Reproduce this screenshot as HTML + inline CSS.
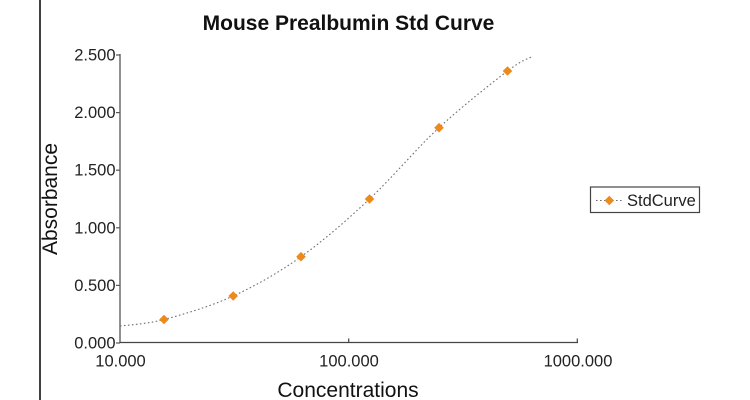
<!DOCTYPE html>
<html>
<head>
<meta charset="utf-8">
<style>
html,body{margin:0;padding:0;background:#fff;}
svg{display:block;}
text{font-family:"Liberation Sans",Arial,sans-serif;}
</style>
</head>
<body>
<svg width="750" height="400" viewBox="0 0 750 400" xmlns="http://www.w3.org/2000/svg">
  <rect x="0" y="0" width="750" height="400" fill="#fff"/>
  <!-- left border -->
  <line x1="40" y1="0" x2="40" y2="400" stroke="#000" stroke-width="1.5"/>

  <!-- title -->
  <text x="348.5" y="30" font-size="21" font-weight="bold" text-anchor="middle" fill="#111">Mouse Prealbumin Std Curve</text>

  <!-- axes -->
  <line x1="120" y1="54" x2="120" y2="343" stroke="#555" stroke-width="1.3"/>
  <line x1="119.5" y1="342.5" x2="578" y2="342.5" stroke="#444" stroke-width="1.3"/>

  <!-- y ticks -->
  <g stroke="#555" stroke-width="1.2">
    <line x1="116" y1="55" x2="120" y2="55"/>
    <line x1="116" y1="112.6" x2="120" y2="112.6"/>
    <line x1="116" y1="170.2" x2="120" y2="170.2"/>
    <line x1="116" y1="227.8" x2="120" y2="227.8"/>
    <line x1="116" y1="285.4" x2="120" y2="285.4"/>
    <line x1="116" y1="343" x2="120" y2="343"/>
  </g>
  <g font-size="16.5" fill="#222" text-anchor="end">
    <text x="115.5" y="60.5">2.500</text>
    <text x="115.5" y="118.1">2.000</text>
    <text x="115.5" y="175.7">1.500</text>
    <text x="115.5" y="233.3">1.000</text>
    <text x="115.5" y="290.9">0.500</text>
    <text x="115.5" y="348.5">0.000</text>
  </g>

  <!-- x ticks -->
  <g stroke="#444" stroke-width="1.2">
    <line x1="348.7" y1="338.5" x2="348.7" y2="343"/>
    <line x1="577.3" y1="338.5" x2="577.3" y2="343"/>
  </g>
  <g font-size="16.5" fill="#222" text-anchor="middle">
    <text x="120.5" y="366.5">10.000</text>
    <text x="349" y="366.5">100.000</text>
    <text x="578" y="366.5">1000.000</text>
  </g>

  <!-- axis titles -->
  <text x="348" y="397" font-size="21" text-anchor="middle" fill="#111">Concentrations</text>
  <text transform="translate(57,199) rotate(-90)" x="0" y="0" font-size="21" text-anchor="middle" fill="#111">Absorbance</text>

  <!-- curve -->
  <path d="M120,326 C127.3,324.9 145.1,324.5 164,319.5 C182.9,314.5 210.4,306.5 233.2,296 C256,285.5 278.3,272.9 301,256.7 C323.7,240.5 346.5,220.5 369.5,199 C392.5,177.5 416,149 439,127.7 C462,106.4 492.05,82.8 507.5,71 C522.95,59.2 527.7,59.1 531.7,56.7"
        fill="none" stroke="#6f6f6f" stroke-width="1.1" stroke-dasharray="1.6 2.4"/>

  <!-- markers -->
  <g fill="#EE8A1C">
    <path d="M164,314.7 L168.8,319.5 L164,324.3 L159.2,319.5 Z"/>
    <path d="M233.2,291.2 L238,296 L233.2,300.8 L228.4,296 Z"/>
    <path d="M301,251.9 L305.8,256.7 L301,261.5 L296.2,256.7 Z"/>
    <path d="M369.5,194.2 L374.3,199 L369.5,203.8 L364.7,199 Z"/>
    <path d="M439,122.9 L443.8,127.7 L439,132.5 L434.2,127.7 Z"/>
    <path d="M507.5,66.2 L512.3,71 L507.5,75.8 L502.7,71 Z"/>
  </g>

  <!-- legend -->
  <rect x="590.5" y="187" width="109" height="25.5" fill="#fff" stroke="#444" stroke-width="1.2"/>
  <line x1="596" y1="200.5" x2="622" y2="200.5" stroke="#6f6f6f" stroke-width="1.1" stroke-dasharray="1.6 2.4"/>
  <path d="M609.3,195.7 L614.1,200.5 L609.3,205.3 L604.5,200.5 Z" fill="#EE8A1C"/>
  <text x="627" y="206" font-size="16.5" fill="#222">StdCurve</text>
</svg>
</body>
</html>
